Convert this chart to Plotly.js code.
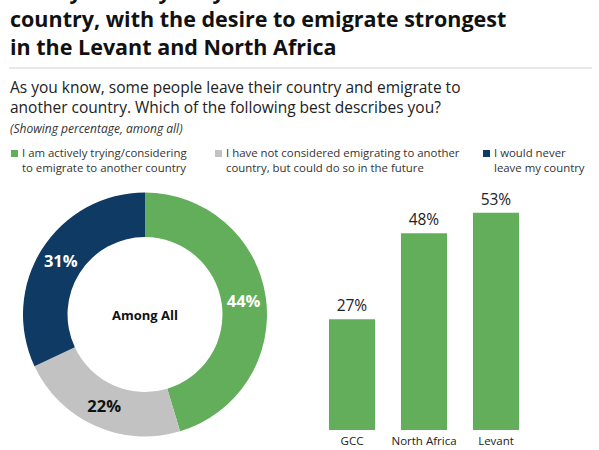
<!DOCTYPE html>
<html>
<head>
<meta charset="utf-8">
<script src="https://cdn.plot.ly/plotly-3.0.1.min.js"></script>
<style>
  html, body { margin: 0; padding: 0; background: #fff; }
  #chart { width: 599px; height: 450px; }
</style>
</head>
<body>
<div id="chart"></div>
<script>
// ---- data ----
const titleLines = [
  "Nearly half say they want to leave their home",
  "country, with the desire to emigrate strongest",
  "in the Levant and North Africa"
];
const subtitleLines = [
  "As you know, some people leave their country and emigrate to",
  "another country. Which of the following best describes you?"
];
const noteText = "(Showing percentage, among all)";
const responseLabels = [
  "I am actively trying/considering<br>to emigrate to another country",
  "I have not considered emigrating to another<br>country, but could do so in the future",
  "I would never<br>leave my country"
];
const responseValues = [44, 22, 31];
const centerLabel = "Among All";
const regions = ["GCC", "North Africa", "Levant"];
const regionValues = [27, 48, 53];

// ---- styles ----
const FONT = "'Open Sans', Lato, sans-serif";
const sliceColors = ["#63ae5a", "#c2c2c2", "#0f3a63"];
const sliceTextColors = ["#ffffff", "#111111", "#ffffff"];
const barColor = "#63ae5a";
const W = 599, H = 450;
const px = v => v / W;
const py = v => 1 - v / H;

const annotations = [];
const shapes = [];

// title (three lines, first one runs off the top like the reference)
annotations.push({
  xref: "paper", yref: "paper", x: px(8), y: py(18.5),
  xanchor: "left", yanchor: "middle", showarrow: false, align: "left",
  text: titleLines.map(t => "<b>" + t + "</b>").join("<br>"),
  font: { family: FONT, size: 21.5, color: "#111111" }
});
// divider
shapes.push({ type: "line", xref: "paper", yref: "paper",
  x0: px(9), x1: px(592), y0: py(68), y1: py(68),
  line: { color: "#e8e8e8", width: 2 } });
// subtitle
annotations.push({
  xref: "paper", yref: "paper", x: px(8), y: py(97),
  xanchor: "left", yanchor: "middle", showarrow: false, align: "left",
  text: subtitleLines.join("<br>"), font: { family: FONT, size: 15.5, color: "#222222" }
});
annotations.push({
  xref: "paper", yref: "paper", x: px(8), y: py(128.5),
  xanchor: "left", yanchor: "middle", showarrow: false, align: "left",
  text: "<i>" + noteText + "</i>", font: { family: FONT, size: 12, color: "#333333" }
});
// custom legend
const legX = [11, 215, 483];
responseLabels.forEach((t, i) => {
  shapes.push({ type: "rect", xref: "paper", yref: "paper",
    x0: px(legX[i]), x1: px(legX[i] + 7), y0: py(150), y1: py(157),
    fillcolor: sliceColors[i], line: { width: 0 } });
  annotations.push({
    xref: "paper", yref: "paper", x: px(legX[i] + 9), y: py(160),
    xanchor: "left", yanchor: "middle", showarrow: false, align: "left",
    text: t, font: { family: FONT, size: 11.4, color: "#333333" }
  });
});
// center label of donut
annotations.push({
  xref: "paper", yref: "paper", x: px(145), y: py(314.5),
  xanchor: "center", yanchor: "middle", showarrow: false,
  text: "<b>" + centerLabel + "</b>", font: { family: FONT, size: 13, color: "#111111" }
});

const pie = {
  type: "pie",
  values: responseValues,
  labels: responseLabels,
  sort: false,
  direction: "clockwise",
  rotation: 0,
  hole: 0.635,
  marker: { colors: sliceColors, line: { width: 0 } },
  texttemplate: "<b>%{value}%</b>",
  textposition: "inside",
  insidetextorientation: "horizontal",
  textfont: { family: FONT, size: 16.5, color: sliceTextColors },
  domain: { x: [px(23), px(267)], y: [1 - 436.5 / H, 1 - 192.5 / H] },
  hoverinfo: "label+value",
  showlegend: false
};

const bars = {
  type: "bar",
  x: regions,
  y: regionValues,
  xaxis: "x", yaxis: "y",
  marker: { color: barColor },
  texttemplate: "%{y}%",
  textposition: "outside",
  constraintext: "none",
  cliponaxis: false,
  textfont: { family: FONT, size: 15.5, color: "#222222" },
  hoverinfo: "x+y",
  showlegend: false
};

const layout = {
  width: W, height: H,
  margin: { l: 0, r: 0, t: 0, b: 0 },
  paper_bgcolor: "#ffffff",
  plot_bgcolor: "rgba(0,0,0,0)",
  showlegend: false,
  bargap: 0.36,
  xaxis: {
    domain: [px(316), px(532)],
    range: [-0.5, 2.5],
    showgrid: false, zeroline: false, showline: false, ticks: "",
    ticklabelstandoff: 2,
    tickfont: { family: FONT, size: 11.5, color: "#222222" },
    fixedrange: true
  },
  yaxis: {
    domain: [1 - 430 / H, 1 - 184 / H],
    range: [0, 60],
    visible: false,
    fixedrange: true
  },
  annotations: annotations,
  shapes: shapes
};

Plotly.newPlot("chart", [pie, bars], layout, { displayModeBar: false, staticPlot: true });
</script>
</body>
</html>
